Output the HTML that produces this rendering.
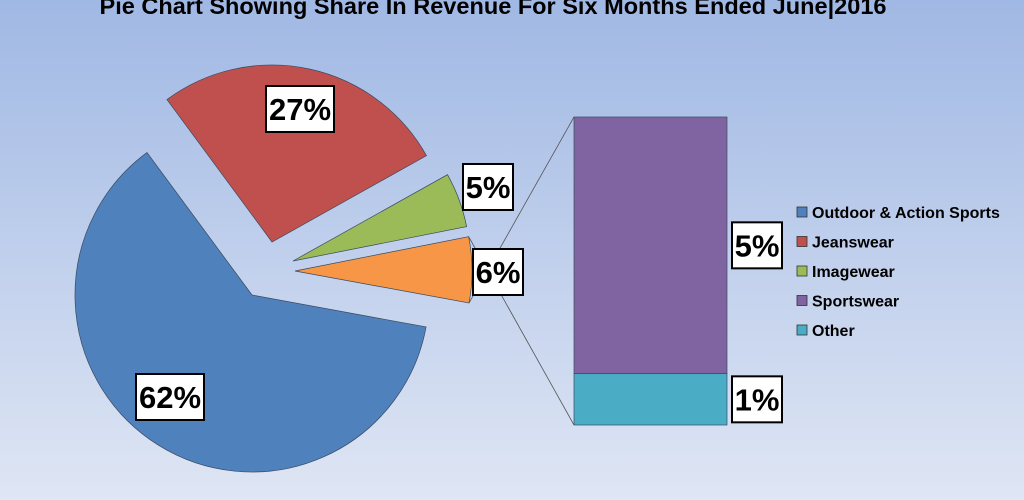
<!DOCTYPE html>
<html><head><meta charset="utf-8"><style>
html,body{margin:0;padding:0;width:1024px;height:500px;overflow:hidden}
svg{display:block;font-family:"Liberation Sans",sans-serif}
</style></head><body>
<svg id="chart" width="1024" height="500" viewBox="0 0 1024 500">
<defs><linearGradient id="bg" x1="0" y1="0" x2="0" y2="1"><stop offset="0" stop-color="#a0b8e4"/><stop offset="1" stop-color="#dfe6f4"/></linearGradient></defs>
<rect x="0" y="0" width="1024" height="500" fill="url(#bg)"/>
<text x="493" y="14" text-anchor="middle" font-size="23" font-weight="bold" fill="#000" textLength="787" lengthAdjust="spacingAndGlyphs">Pie Chart Showing Share In Revenue For Six Months Ended June|2016</text>
<g id="pie"></g>
<g id="bar"></g>
<g id="labels"></g>
<g id="legend"></g>
</svg>
<script>
const categories = ["Outdoor & Action Sports","Jeanswear","Imagewear","Sportswear","Other"];
const values = [62,27,5,5,1];
const colors = ["#4f81bd","#c0504d","#9bbb59","#8064a2","#4bacc6"];
const pieSlices = [0,1,2]; // plus combined "other" slice
const barSlices = [3,4];

const NS="http://www.w3.org/2000/svg";
function mk(t,a,p){const e=document.createElementNS(NS,t);for(const k in a)e.setAttribute(k,a[k]);p.appendChild(e);return e;}
const pie=document.getElementById('pie'),bar=document.getElementById('bar'),labels=document.getElementById('labels'),legend=document.getElementById('legend');
const total=values.reduce((a,b)=>a+b,0);
const R=177, startAngle=10.4;
const tips=[[252,295],[272,242],[293,261],[295,271]];
const labelPos=[[170,397],[300,109],[488,187],[498,272]];
function rad(d){return d*Math.PI/180;}
function label(txt,cx,cy,name){
  const g=mk('g',{},labels);
  
  
  const w=txt.length>2?68:50;
  mk('rect',{x:cx-w/2,y:cy-23,width:w,height:46,fill:'#fff',stroke:'#000','stroke-width':2},g);
  const t=mk('text',{x:cx,y:cy+11,'text-anchor':'middle','font-size':31,'font-weight':'bold',fill:'#000'},g);
  t.textContent=txt;
}
const otherVal=values[3]+values[4];
const pieVals=[values[0],values[1],values[2],otherVal];
const pieCols=[colors[0],colors[1],colors[2],"#f79646"];
const pieNames=["slice-outdoor","slice-jeanswear","slice-imagewear","slice-other-combined"];
let a=startAngle;
let otherA0=0,otherA1=0;
pieVals.forEach((v,i)=>{
  const sweep=v/total*360;const a0=a,a1=a+sweep;a=a1;
  const [cx,cy]=tips[i];
  const x0=cx+R*Math.cos(rad(a0)),y0=cy+R*Math.sin(rad(a0));
  const x1=cx+R*Math.cos(rad(a1)),y1=cy+R*Math.sin(rad(a1));
  const p=mk('path',{d:`M${cx},${cy}L${x0},${y0}A${R},${R} 0 ${sweep>180?1:0} 1 ${x1},${y1}Z`,fill:pieCols[i],stroke:'#3a4a60','stroke-width':0.7},pie);
  
  
  if(i===3){otherA0=[x0,y0];otherA1=[x1,y1];}
  label(Math.round(v)+'%',labelPos[i][0],labelPos[i][1],pieNames[i]+'-label');
});
// bar of pie
const barX=574,barW=153,barTop=117,barBot=425;
const barScale=(barBot-barTop)/otherVal;
let y=barTop;
const barNames=["bar-sportswear","bar-other"];
barSlices.forEach((ci,j)=>{
  const h=values[ci]*barScale;
  const r=mk('rect',{x:barX,y:y,width:barW,height:h,fill:colors[ci],stroke:'#3a4a60','stroke-width':0.7},bar);
  
  
  label(values[ci]+'%',757,y+h/2,barNames[j]+'-label');
  y+=h;
});
const l1=mk('line',{x1:otherA1[0],y1:otherA1[1],x2:barX,y2:barTop,stroke:'#555','stroke-width':0.8},bar);


const l2=mk('line',{x1:otherA0[0],y1:otherA0[1],x2:barX,y2:barBot,stroke:'#555','stroke-width':0.8},bar);


// legend
categories.forEach((c,i)=>{
  const g=mk('g',{},legend);
  
  
  const ly=212+i*29.5;
  mk('rect',{x:797,y:ly-5,width:10,height:10,fill:colors[i],stroke:'#333','stroke-width':0.8},g);
  const t=mk('text',{x:812,y:ly+6,'font-size':16,'font-weight':'bold',fill:'#000'},g);
  t.textContent=c;
});
</script>
</body></html>
